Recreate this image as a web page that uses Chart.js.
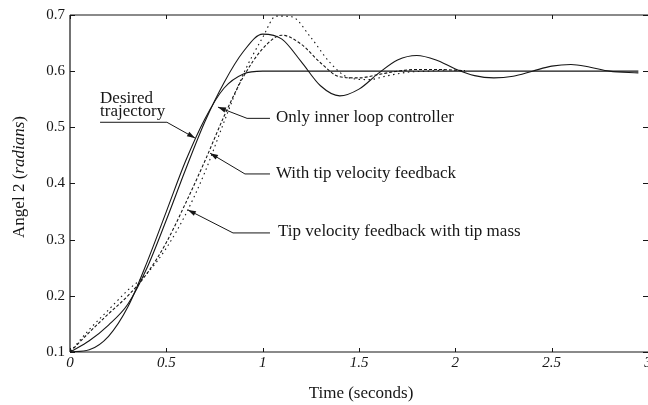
<!DOCTYPE html>
<html>
<head>
<meta charset="utf-8">
<script src="https://cdn.jsdelivr.net/npm/chart.js@4.4.0/dist/chart.umd.min.js"></script>
<style>
  html, body { margin: 0; padding: 0; background: #fff; }
</style>
</head>
<body>
<canvas id="angleChart" width="648" height="405"></canvas>
<script>
// data (time in seconds, angle in radians)
const desiredT = [0, 0.1, 0.2, 0.3, 0.4, 0.5, 0.6, 0.7, 0.8, 0.9, 1.0, 2.95];
const desiredV = [0.1, 0.104, 0.128, 0.18, 0.26, 0.35, 0.44, 0.515, 0.57, 0.595, 0.6, 0.6];

const innerT = [0, 0.1, 0.2, 0.3, 0.4, 0.5, 0.6, 0.7, 0.8, 0.9, 1.0, 1.1, 1.2, 1.3, 1.4, 1.5, 1.6, 1.7, 1.8, 1.9, 2.0, 2.1, 2.2, 2.3, 2.4, 2.5, 2.6, 2.7, 2.8, 2.95];
const innerV = [0.1, 0.12, 0.148, 0.185, 0.25, 0.335, 0.425, 0.51, 0.58, 0.635, 0.666, 0.657, 0.617, 0.574, 0.556, 0.568, 0.596, 0.62, 0.628, 0.62, 0.604, 0.592, 0.588, 0.591, 0.6, 0.609, 0.612, 0.607, 0.6, 0.597];

const tipT = [0, 0.1, 0.2, 0.3, 0.4, 0.5, 0.6, 0.7, 0.8, 0.9, 1.0, 1.1, 1.2, 1.3, 1.4, 1.5, 1.6, 1.7, 1.8, 1.9, 2.05];
const tipV = [0.1, 0.135, 0.168, 0.2, 0.24, 0.295, 0.365, 0.44, 0.52, 0.59, 0.64, 0.664, 0.648, 0.615, 0.59, 0.588, 0.594, 0.6, 0.603, 0.603, 0.601];

const massT = [0, 0.1, 0.2, 0.3, 0.4, 0.5, 0.6, 0.7, 0.8, 0.9, 1.0, 1.07, 1.15, 1.25, 1.35, 1.45, 1.55, 1.65, 1.75, 1.85, 1.95];
const massV = [0.1, 0.14, 0.175, 0.21, 0.24, 0.285, 0.345, 0.42, 0.51, 0.595, 0.66, 0.698, 0.697, 0.66, 0.615, 0.588, 0.585, 0.592, 0.598, 0.6, 0.602];

const xTicks = [0, 0.5, 1, 1.5, 2, 2.5, 3];
const xTickLabels = ['0', '0.5', '1', '1.5', '2', '2.5', '3'];
const yTicks = [0.1, 0.2, 0.3, 0.4, 0.5, 0.6, 0.7];

// labels with leader lines (points in data units, last point gets the arrow)
const notes = [
  { lines: ['Desired', 'trajectory'], at: [0.156, 0.543], lead: [[0.156, 0.509], [0.503, 0.509], [0.649, 0.481]] },
  { lines: ['Only inner loop controller'], at: [1.069, 0.509], lead: [[1.038, 0.516], [0.919, 0.516], [0.768, 0.536]] },
  { lines: ['With tip velocity feedback'], at: [1.069, 0.41], lead: [[1.038, 0.417], [0.908, 0.417], [0.727, 0.454]] },
  { lines: ['Tip velocity feedback with tip mass'], at: [1.08, 0.306], lead: [[1.038, 0.312], [0.846, 0.312], [0.612, 0.353]] }
];

const serif = '"Liberation Serif", "DejaVu Serif", serif';
const ink = '#161616';

function pts(t, v) {
  return t.map((x, i) => ({ x: x, y: v[i] }));
}

function serie(t, v, dash) {
  return {
    data: pts(t, v),
    showLine: true,
    borderColor: ink,
    borderWidth: 1.1,
    borderDash: dash,
    pointRadius: 0,
    cubicInterpolationMode: 'monotone',
    fill: false
  };
}

// frame, inward ticks, x labels, titles and the notes
const decor = {
  id: 'decor',
  afterDatasetsDraw(chart) {
    const { ctx, chartArea: a, scales: { x, y } } = chart;
    ctx.save();
    ctx.strokeStyle = ink;
    ctx.fillStyle = ink;
    ctx.lineWidth = 1.2;

    ctx.beginPath();
    ctx.moveTo(a.left, a.top); ctx.lineTo(a.right, a.top);
    ctx.moveTo(a.left, a.top); ctx.lineTo(a.left, a.bottom);
    ctx.moveTo(a.left, a.bottom); ctx.lineTo(a.right, a.bottom);
    ctx.stroke();

    ctx.lineWidth = 1;
    ctx.beginPath();
    yTicks.forEach(v => {
      const py = Math.round(y.getPixelForValue(v)) + 0.5;
      ctx.moveTo(a.left, py); ctx.lineTo(a.left + 5, py);
      ctx.moveTo(a.right, py); ctx.lineTo(a.right - 5, py);
    });
    xTicks.forEach(t => {
      const px = Math.round(x.getPixelForValue(t)) + 0.5;
      ctx.moveTo(px, a.top); ctx.lineTo(px, a.top + 4);
      ctx.moveTo(px, a.bottom); ctx.lineTo(px, a.bottom - 4);
    });
    ctx.stroke();

    // x tick labels
    ctx.font = 'italic 15px ' + serif;
    ctx.textAlign = 'center';
    ctx.textBaseline = 'alphabetic';
    xTicks.forEach((t, i) => {
      ctx.fillText(xTickLabels[i], x.getPixelForValue(t), a.bottom + 15);
    });

    // axis titles
    ctx.font = '17px ' + serif;
    ctx.fillText('Time (seconds)', (a.left + a.right) / 2 + 2, a.bottom + 46);

    ctx.save();
    ctx.translate(24, 177);
    ctx.rotate(-Math.PI / 2);
    const parts = [['Angel 2 (', '17px '], ['radians', 'italic 17px '], [')', '17px ']];
    let w = 0;
    parts.forEach(p => { ctx.font = p[1] + serif; w += ctx.measureText(p[0]).width; });
    let cx = -w / 2;
    ctx.textAlign = 'left';
    parts.forEach(p => {
      ctx.font = p[1] + serif;
      ctx.fillText(p[0], cx, 0);
      cx += ctx.measureText(p[0]).width;
    });
    ctx.restore();

    // notes
    ctx.font = '17px ' + serif;
    ctx.textAlign = 'left';
    notes.forEach(n => {
      const tx = x.getPixelForValue(n.at[0]);
      const ty = y.getPixelForValue(n.at[1]);
      n.lines.forEach((s, i) => ctx.fillText(s, tx, ty + i * 13));

      const p = n.lead.map(q => [x.getPixelForValue(q[0]), y.getPixelForValue(q[1])]);
      ctx.lineWidth = 1;
      ctx.beginPath();
      ctx.moveTo(p[0][0], p[0][1]);
      for (let i = 1; i < p.length; i++) ctx.lineTo(p[i][0], p[i][1]);
      ctx.stroke();

      const e = p[p.length - 1], b = p[p.length - 2];
      const ang = Math.atan2(e[1] - b[1], e[0] - b[0]);
      ctx.beginPath();
      ctx.moveTo(e[0], e[1]);
      ctx.lineTo(e[0] - 8 * Math.cos(ang) + 2.6 * Math.sin(ang), e[1] - 8 * Math.sin(ang) - 2.6 * Math.cos(ang));
      ctx.lineTo(e[0] - 8 * Math.cos(ang) - 2.6 * Math.sin(ang), e[1] - 8 * Math.sin(ang) + 2.6 * Math.cos(ang));
      ctx.closePath();
      ctx.fill();
    });

    ctx.restore();
  }
};

const ctx = document.getElementById('angleChart').getContext('2d');
const angleChart = new Chart(ctx, {
  type: 'scatter',
  data: {
    datasets: [
      serie(desiredT, desiredV, []),
      serie(innerT, innerV, []),
      serie(tipT, tipV, [3, 2]),
      serie(massT, massV, [1.5, 3.5])
    ]
  },
  options: {
    responsive: false,
    devicePixelRatio: 1,
    animation: false,
    layout: { padding: { top: 15, right: 0, bottom: 53, left: 0 } },
    plugins: {
      legend: { display: false },
      tooltip: { enabled: false }
    },
    scales: {
      x: {
        type: 'linear',
        min: 0,
        max: 3,
        grid: { display: false, drawTicks: false },
        border: { display: false },
        ticks: { display: false },
        afterFit: s => { s.height = 0; }
      },
      y: {
        type: 'linear',
        min: 0.1,
        max: 0.7,
        grid: { display: false, drawTicks: false },
        border: { display: false },
        afterBuildTicks: s => { s.ticks = yTicks.map(v => ({ value: v })); },
        afterFit: s => { s.width = 70; },
        ticks: {
          padding: 5,
          color: ink,
          font: { family: serif, size: 15 },
          callback: v => v.toFixed(1)
        }
      }
    }
  },
  plugins: [decor]
});
</script>
</body>
</html>
